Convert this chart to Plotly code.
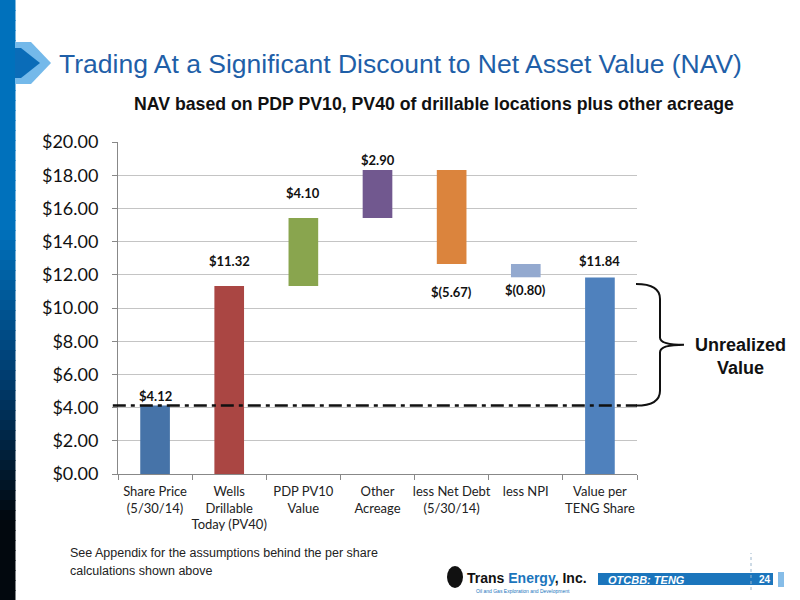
import plotly.graph_objects as go

# data
categories = ["Share Price<br>(5/30/14)", "Wells<br>Drillable<br>Today (PV40)", "PDP PV10<br>Value",
              "Other<br>Acreage", "less Net Debt<br>(5/30/14)", "less NPI", "Value per<br>TENG Share"]
steps = [4.12, 11.32, 4.10, 2.90, -5.67, -0.80, 11.84]
kinds = ["abs", "abs", "rel", "rel", "rel", "rel", "abs"]
colors = ["#4673A8", "#AA4643", "#89A54E", "#71588F", "#DB843D", "#93A9CF", "#4F81BD"]
share_price = 4.12
y_ticks = [0, 2, 4, 6, 8, 10, 12, 14, 16, 18, 20]

# waterfall bases
bases, run = [], 0.0
for v, k in zip(steps, kinds):
    if k == "abs":
        bases.append(0.0); run = v
    else:
        bases.append(run); run += v

def money(v):
    return f"${v:.2f}" if v >= 0 else f"$({-v:.2f})"

# plot area in page pixels
L, R, T, B = 118, 637, 142, 474
W, H = 800, 600
def px(x): return (x - L) / (R - L)
def py(y): return (B - y) / (B - T)

fig = go.Figure(go.Bar(x=categories, y=steps, base=bases, marker_color=colors,
                       marker_line_width=0, width=0.4, hoverinfo="skip"))

# data labels
shifts = [10, 25, 25, 10, -28, -13, 16]
for c, v, b, s in zip(categories, steps, bases, shifts):
    end = b + v
    fig.add_annotation(x=c, y=end, text=f"<b>{money(v)}</b>", showarrow=False, yshift=s,
                       font=dict(family="Lato", size=13, color="#111"))

shapes = []
# dash-dot share price line
shapes.append(dict(type="line", xref="paper", yref="y", x0=-0.01, x1=1.0, y0=share_price, y1=share_price,
                   line=dict(color="#111", width=2.5, dash="13px,5px,4px,5px"), layer="above"))
# brace
b0, b1 = share_price, steps[-1] - 0.4
m = (b0 + b1) / 2
x0, x1, x2 = px(636), px(660), px(684)
path = (f"M {x0},{b1} Q {x1},{b1} {x1},{b1-0.9} L {x1},{m+0.45} Q {x1},{m} {x2},{m} "
        f"Q {x1},{m} {x1},{m-0.45} L {x1},{b0+0.9} Q {x1},{b0} {x0},{b0}")
shapes.append(dict(type="path", xref="paper", yref="y", path=path, line=dict(color="#111", width=2)))

# left gradient band
def mix(c1, c2, t):
    return "#" + "".join(f"{int(c1[i]+(c2[i]-c1[i])*t):02x}" for i in range(3))
blue, navy, black = (0, 113, 188), (0, 60, 110), (2, 8, 14)
n = 60
for i in range(n):
    y0 = i * H / n; y1 = (i + 1) * H / n
    ym = (y0 + y1) / 2
    if ym < 230: col = mix(blue, blue, 0)
    elif ym < 380: col = mix(blue, navy, (ym - 230) / 150)
    elif ym < 520: col = mix(navy, black, (ym - 380) / 140)
    else: col = mix(black, black, 0)
    shapes.append(dict(type="rect", xref="paper", yref="paper", x0=px(0), x1=px(15.5),
                       y0=py(y1 + 1), y1=py(y0), fillcolor=col, line_width=0, layer="below"))
# chevron
shapes.append(dict(type="path", xref="paper", yref="paper", fillcolor="#74b9ea", line_width=0,
                   path=f"M {px(15)},{py(42)} L {px(31)},{py(42)} L {px(51)},{py(63)} L {px(31)},{py(84)} "
                        f"L {px(15)},{py(84)} Z"))
shapes.append(dict(type="path", xref="paper", yref="paper", fillcolor="#0a6cb8", line_width=0,
                   path=f"M {px(15)},{py(48)} L {px(21)},{py(48)} L {px(40)},{py(63)} L {px(21)},{py(78)} "
                        f"L {px(15)},{py(78)} Z"))
# footer logo bits
shapes.append(dict(type="circle", xref="paper", yref="paper", x0=px(447), x1=px(463), y0=py(588), y1=py(566),
                   fillcolor="#111", line_width=0))
shapes.append(dict(type="rect", xref="paper", yref="paper", x0=px(598), x1=px(773), y0=py(585), y1=py(573),
                   fillcolor="#1b75bc", line_width=0))
shapes.append(dict(type="line", xref="paper", yref="paper", x0=px(751), x1=px(751), y0=py(590), y1=py(553),
                   line=dict(color="#9cb6cc", width=1, dash="dot")))
shapes.append(dict(type="rect", xref="paper", yref="paper", x0=px(778), x1=px(784), y0=py(587), y1=py(572),
                   fillcolor="#86bde8", line_width=0))

anns = [
    dict(x=px(57), y=py(64), text="Trading At a Significant Discount to Net Asset Value (NAV)",
         xanchor="left", font=dict(family="Liberation Sans", size=26.5, color="#1f5fa8")),
    dict(x=px(434), y=py(104), text="<b>NAV based on PDP PV10, PV40 of drillable locations plus other acreage</b>",
         xanchor="center", font=dict(family="Liberation Sans", size=17.7, color="#111")),
    dict(x=px(740), y=py(356), text="<b>Unrealized<br>Value</b>", xanchor="center",
         font=dict(family="Liberation Sans", size=18, color="#111")),
    dict(x=px(68), y=py(553), text="See Appendix for the assumptions behind the per share", xanchor="left",
         font=dict(family="Liberation Sans", size=12.5, color="#222")),
    dict(x=px(68), y=py(571), text="calculations shown above", xanchor="left",
         font=dict(family="Liberation Sans", size=12.5, color="#222")),
    dict(x=px(465), y=py(578), text="<b>Trans <span style='color:#1b75bc'>Energy</span>, Inc.</b>", xanchor="left",
         font=dict(family="Liberation Sans", size=14, color="#111")),
    dict(x=px(474), y=py(591), text="Oil and Gas Exploration and Development", xanchor="left",
         font=dict(family="Liberation Sans", size=5, color="#1b75bc")),
    dict(x=px(606), y=py(579.5), text="<b><i>OTCBB: TENG</i></b>", xanchor="left",
         font=dict(family="Liberation Sans", size=11, color="white")),
    dict(x=px(765), y=py(579.5), text="<b>24</b>", xanchor="center",
         font=dict(family="Liberation Sans", size=10, color="white")),
]
for a in anns:
    fig.add_annotation(xref="paper", yref="paper", showarrow=False, yanchor="middle", **a)

fig.update_layout(
    width=W, height=H, margin=dict(l=L, r=W - R, t=T, b=H - B, autoexpand=False),
    paper_bgcolor="white", plot_bgcolor="white", showlegend=False, shapes=shapes,
    font=dict(family="Lato", color="#111"),
)
fig.update_yaxes(range=[0, 20], tickvals=y_ticks, ticktext=[f"${v:.2f}" for v in y_ticks],
                 tickfont=dict(family="Lato", size=18, color="#111"), showgrid=True, gridcolor="#c4c4c4",
                 gridwidth=1, showline=True, linecolor="#888", ticks="outside", ticklen=5, tickcolor="#888",
                 ticklabelstandoff=10, zeroline=False, fixedrange=True, automargin=False)
fig.update_xaxes(tickfont=dict(family="Lato", size=13, color="#222"), tickangle=0, showline=True,
                 linecolor="#888", ticks="outside", tickson="boundaries", ticklen=5, tickcolor="#888",
                 ticklabelstandoff=5, fixedrange=True, automargin=False)

fig.write_html("out.html", config={"displayModeBar": False},
               post_script="document.body.style.margin='0';")
